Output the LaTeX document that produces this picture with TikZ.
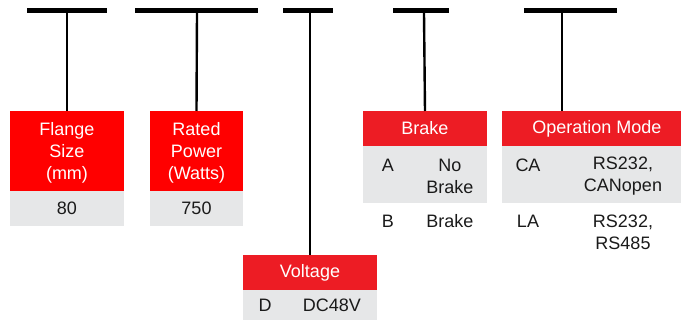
\documentclass[tikz,border=0pt]{standalone}
\usepackage{fontspec}
\setmainfont{Liberation Sans}
\definecolor{pured}{RGB}{255,0,0}
\definecolor{hdred}{RGB}{237,28,36}
\definecolor{lgray}{RGB}{230,231,232}
\definecolor{txt}{RGB}{26,26,26}
\begin{document}
\begin{tikzpicture}[x=1pt,y=-1pt,
  bar/.style={line width=5pt},
  stem/.style={line width=2.4pt},
  box/.style={rectangle, inner sep=0pt, outer sep=0pt, minimum width=#1},
  redbox/.style={box=#1, fill=hdred, text=white, align=center},
  greybox/.style={box=#1, fill=lgray, text=txt, align=center},
  lbl/.style={inner sep=0pt, text=txt, align=center, font=\fontsize{18}{22}\selectfont},
  hdr/.style={inner sep=0pt, text=white, align=center, font=\fontsize{18}{22}\selectfont},
  every node/.style={font=\fontsize{18}{22}\selectfont}]
\useasboundingbox (0,0) rectangle (681,320);
% top bars
\draw[bar] (27,10.5) -- (107,10.5);
\draw[bar] (135,10.5) -- (258,10.5);
\draw[bar] (283,10.5) -- (333,10.5);
\draw[bar] (393,10.5) -- (449,10.5);
\draw[bar] (524,10.5) -- (617,10.5);
\coordinate (t1) at (67,13);
\coordinate (t2) at (197,13);
\coordinate (t3) at (310,13);
\coordinate (t4) at (424,13);
\coordinate (t5) at (562,13);
% Flange
\node[box=114pt, minimum height=80pt, fill=pured] (flange) at (67,151) {};
\node[hdr] (flanget) at (67,152.5) {Flange\\Size\\(mm)};
\node[greybox=114pt, minimum height=35pt] (flangev) at (67,208.5) {80};
% Rated power
\node[box=93pt, minimum height=80pt, fill=pured] (power) at (196.5,151) {};
\node[hdr] (powert) at (196.5,152.5) {Rated\\Power\\(Watts)};
\node[greybox=93pt, minimum height=35pt] (powerv) at (196.5,208.5) {750};
% Brake
\node[redbox=124pt, minimum height=35pt] (brake) at (425,128.5) {Brake};
\node[greybox=124pt, minimum height=57pt] (brakeg) at (425,174.5) {};
\node[lbl] (ba) at (388,165) {A};
\node[lbl] (bav) at (450,176) {No\\Brake};
\node[lbl] (bb) at (388,221) {B};
\node[lbl] (bbv) at (450,221) {Brake};
% Operation mode
\node[box=179pt, minimum height=35pt, fill=hdred] (op) at (591.5,128.5) {};
\node[hdr] (opt) at (597,128.5) {Operation Mode};
\node[box=179pt, minimum height=57pt, fill=lgray] (opg) at (591.5,174.5) {};
\node[lbl] (oca) at (528,165) {CA};
\node[lbl] (ocav) at (623,176) {RS232,\\CANopen};
\node[lbl] (ola) at (528,221) {LA};
\node[lbl] (olav) at (623,232) {RS232,\\RS485};
% Voltage
\node[redbox=134pt, minimum height=35pt] (volt) at (310,272.5) {Voltage};
\node[greybox=134pt, minimum height=30pt] (voltg) at (310,305) {};
\node[lbl] (vd) at (265,305) {D};
\node[lbl] (vdv) at (332,305) {DC48V};
% stems
\draw[stem] (t1) -- (flange.north);
\draw[stem] (t2) -- (power.north);
\draw[stem] (t3) -- (volt.north);
\draw[stem] (t4) -- (brake.north);
\draw[stem] (t5) -- (op.north -| t5);
\end{tikzpicture}
\end{document}
